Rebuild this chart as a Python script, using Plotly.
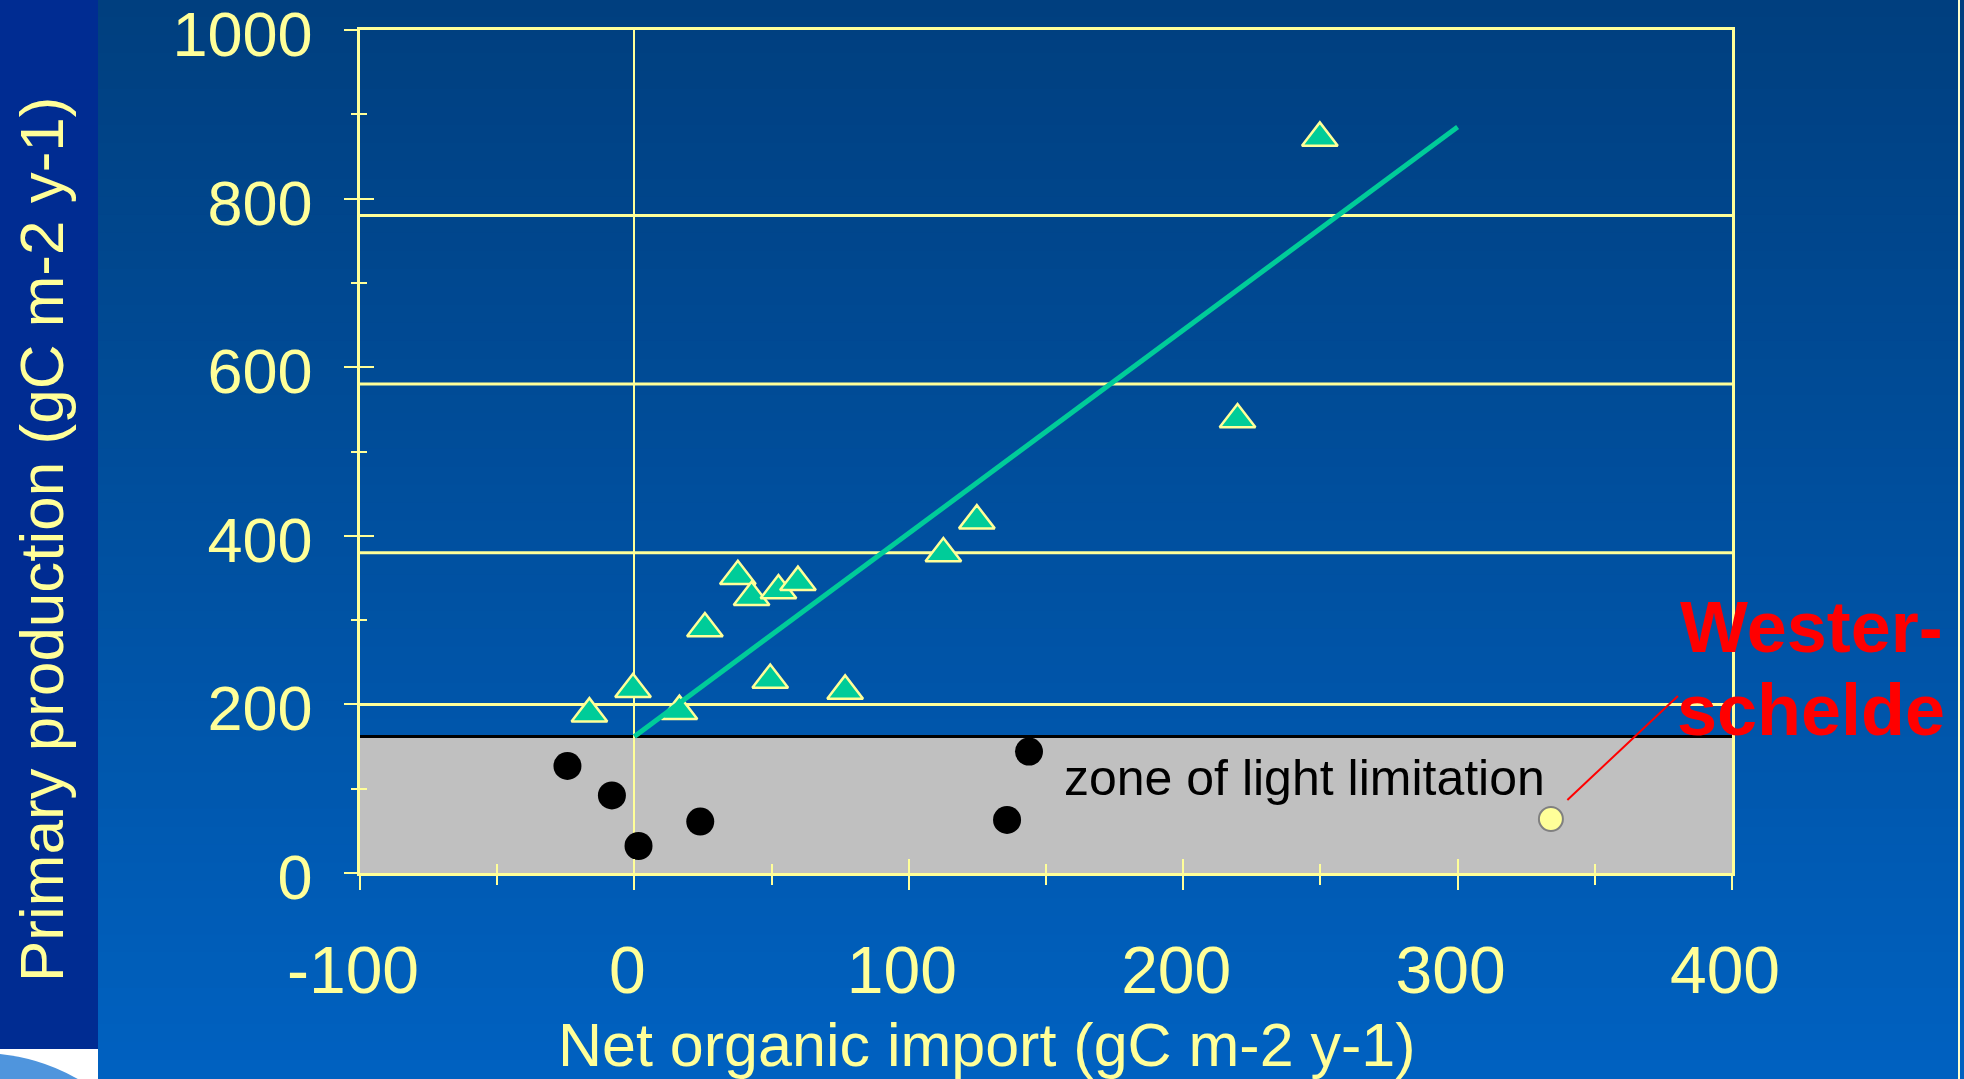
import plotly.graph_objects as go

# ---------------- data ----------------
tri_x = [-16.4, -0.5, 16.4, 25.7, 37.7, 42.7, 52.5, 59.6, 49.5, 76.8, 112.6, 124.8, 219.8, 249.8]
tri_y = [189, 218, 192, 290, 352, 327, 335, 345, 229, 216, 379, 418, 538, 872]
dot_x = [-24.4, -8.2, 1.5, 24.0, 135.8, 143.8]
dot_y = [127, 92, 32, 61, 63, 144]
wester_x = [334]
wester_y = [64]
fit_x = [0, 300]
fit_y = [162, 885]
light_limit = 162
grid_y = [200, 380, 580, 780]
x_tickvals = [-100, 0, 100, 200, 300, 400]
x_ticktext = ["-100", "0", "100", "200", "300", "400"]
y_tickvals = [0, 200, 400, 600, 800, 1000]
y_ticktext = ["0", "200", "400", "600", "800", "1000"]
callout_x = [340, 380.3]
callout_y = [86.6, 210]

# ---------------- layout geometry (pixels) ----------------
W, H = 1964, 1079
L, R, T, B = 360, 1732, 30, 873
YEL = "#FFFF99"
TEAL = "#00CC99"
FONT = "Liberation Sans, Arial, sans-serif"


def xp(px):
    return (px - L) / (R - L)


def yp(py):
    return (B - py) / (B - T)


shapes = []
# background gradient
N = 60
top_c = (0, 63, 127)
bot_c = (0, 97, 192)
for i in range(N):
    f = i / (N - 1)
    c = tuple(round(top_c[k] + (bot_c[k] - top_c[k]) * f) for k in range(3))
    shapes.append(dict(type="rect", xref="paper", yref="paper", layer="below",
                       x0=xp(0), x1=xp(W), y0=yp(i * H / N - 1), y1=yp((i + 1) * H / N + 1),
                       fillcolor="rgb(%d,%d,%d)" % c, line=dict(width=0)))
# left band
shapes.append(dict(type="rect", xref="paper", yref="paper", layer="below",
                   x0=xp(0), x1=xp(98), y0=yp(0), y1=yp(1049),
                   fillcolor="#002C92", line=dict(width=0)))
# logo fragment
shapes.append(dict(type="rect", xref="paper", yref="paper", layer="below",
                   x0=xp(0), x1=xp(98), y0=yp(1049), y1=yp(H + 2),
                   fillcolor="#FFFFFF", line=dict(width=0)))
shapes.append(dict(type="circle", xref="paper", yref="paper", layer="below",
                   x0=xp(-217), x1=xp(177), y0=yp(1053), y1=yp(1447),
                   fillcolor="#4F95DD", line=dict(width=0)))
# right edge line
shapes.append(dict(type="line", xref="paper", yref="paper", layer="below",
                   x0=xp(1959), x1=xp(1959), y0=yp(0), y1=yp(H),
                   line=dict(color="#FFFFCC", width=2)))
# zone of light limitation
shapes.append(dict(type="rect", xref="x", yref="y", layer="below",
                   x0=x_tickvals[0], x1=x_tickvals[-1], y0=0, y1=light_limit,
                   fillcolor="#C0C0C0", line=dict(width=0)))
shapes.append(dict(type="line", xref="x", yref="y", layer="below",
                   x0=x_tickvals[0], x1=x_tickvals[-1], y0=light_limit, y1=light_limit,
                   line=dict(color="black", width=3)))
# gridlines
for gy in grid_y:
    shapes.append(dict(type="line", xref="x", yref="y", layer="below",
                       x0=x_tickvals[0], x1=x_tickvals[-1], y0=gy, y1=gy,
                       line=dict(color=YEL, width=3)))
# callout line
shapes.append(dict(type="line", xref="x", yref="y", layer="above",
                   x0=callout_x[0], x1=callout_x[1], y0=callout_y[0], y1=callout_y[1],
                   line=dict(color="#FF0000", width=2)))

fig = go.Figure()
fig.add_trace(go.Scatter(x=dot_x, y=dot_y, mode="markers", showlegend=False,
                         marker=dict(symbol="circle", size=28, color="black", line=dict(width=0))))
fig.add_trace(go.Scatter(x=wester_x, y=wester_y, mode="markers", showlegend=False,
                         marker=dict(symbol="circle", size=24, color=YEL,
                                     line=dict(color="#808080", width=2))))
fig.add_trace(go.Scatter(x=tri_x, y=tri_y, mode="markers", showlegend=False,
                         marker=dict(symbol="triangle-up", size=31, color=TEAL,
                                     line=dict(color=YEL, width=2.5))))
fig.add_trace(go.Scatter(x=fit_x, y=fit_y, mode="lines", showlegend=False,
                         line=dict(color=TEAL, width=5)))
# helper trace on overlay axes for crossing ticks
fig.add_trace(go.Scatter(x=[], y=[], xaxis="x2", yaxis="y2", showlegend=False, hoverinfo="skip"))

annotations = [
    dict(text="Primary production (gC m-2 y-1)", textangle=-90, xref="paper", yref="paper",
         x=xp(41.5), y=yp(539.5), xanchor="center", yanchor="middle", showarrow=False,
         font=dict(family=FONT, size=62, color=YEL)),
    dict(text="Net organic import (gC m-2 y-1)", xref="paper", yref="paper",
         x=xp(986.5), y=yp(1045), xanchor="center", yanchor="middle", showarrow=False,
         font=dict(family=FONT, size=61, color=YEL)),
    dict(text="zone of light limitation", xref="x", yref="y", x=244.2, y=113,
         xanchor="center", yanchor="middle", showarrow=False,
         font=dict(family=FONT, size=50, color="black")),
    dict(text="<b>Wester-</b>", xref="paper", yref="paper", x=xp(1811), y=yp(627),
         xanchor="center", yanchor="middle", showarrow=False,
         font=dict(family=FONT, size=72, color="#FF0000")),
    dict(text="<b>schelde</b>", xref="paper", yref="paper", x=xp(1811), y=yp(710),
         xanchor="center", yanchor="middle", showarrow=False,
         font=dict(family=FONT, size=72, color="#FF0000")),
]

xtickfont = dict(family=FONT, size=66, color=YEL)
ytickfont = dict(family=FONT, size=63, color=YEL)
fig.update_layout(
    width=W, height=H,
    margin=dict(l=L, r=W - R, t=T, b=H - B, autoexpand=False),
    paper_bgcolor="#00508F", plot_bgcolor="rgba(0,0,0,0)",
    shapes=shapes, annotations=annotations,
    xaxis=dict(range=[x_tickvals[0], x_tickvals[-1]], tickmode="array", tickvals=x_tickvals,
               ticktext=x_ticktext, ticks="outside", ticklen=14, tickwidth=2, tickcolor=YEL,
               minor=dict(tickmode="linear", tick0=0, dtick=50, ticks="outside", ticklen=9,
                          tickwidth=2, tickcolor=YEL, showgrid=False),
               showline=True, linecolor=YEL, linewidth=3, mirror=True, showgrid=False,
               zeroline=True, zerolinecolor=YEL, zerolinewidth=2, tickfont=xtickfont,
               ticklabelstandoff=24, ticklabelshift=-7, ticklabeloverflow="allow", fixedrange=True),
    yaxis=dict(range=[y_tickvals[0], y_tickvals[-1]], tickmode="array", tickvals=y_tickvals,
               ticktext=y_ticktext, ticks="outside", ticklen=13, tickwidth=2, tickcolor=YEL,
               minor=dict(tickmode="linear", tick0=0, dtick=100, ticks="outside", ticklen=6,
                          tickwidth=2, tickcolor=YEL, showgrid=False),
               showline=True, linecolor=YEL, linewidth=2.5, mirror=True, showgrid=False,
               zeroline=False, tickfont=ytickfont, ticklabelstandoff=19, ticklabelshift=4,
               ticklabeloverflow="allow", fixedrange=True),
    xaxis2=dict(overlaying="x", anchor="y2", side="bottom", range=[x_tickvals[0], x_tickvals[-1]],
                tickmode="array", tickvals=x_tickvals, ticks="inside", ticklen=14, tickwidth=2,
                tickcolor=YEL, minor=dict(tickmode="linear", tick0=0, dtick=50, ticks="inside",
                                          ticklen=9, tickwidth=2, tickcolor=YEL, showgrid=False),
                showticklabels=False, showline=False, showgrid=False, zeroline=False, fixedrange=True),
    yaxis2=dict(overlaying="y", anchor="x2", side="left", range=[y_tickvals[0], y_tickvals[-1]],
                tickmode="array", tickvals=y_tickvals, ticks="inside", ticklen=14, tickwidth=2,
                tickcolor=YEL, minor=dict(tickmode="linear", tick0=0, dtick=100, ticks="inside",
                                          ticklen=7, tickwidth=2, tickcolor=YEL, showgrid=False),
                showticklabels=False, showline=False, showgrid=False, zeroline=False, fixedrange=True),
    showlegend=False,
)

fig.write_html("out.html", config={"displayModeBar": False})
